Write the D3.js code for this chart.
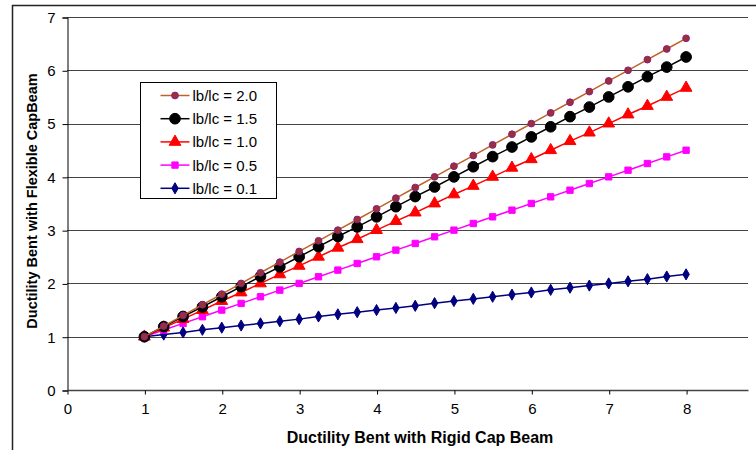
<!DOCTYPE html>
<html>
<head>
<meta charset="utf-8">
<script src="https://cdn.jsdelivr.net/npm/d3@7"></script>
<style>
  body { margin: 0; background: #fff; }
  svg text { font-family: Arial, "Liberation Sans", sans-serif; fill: #000; }
</style>
</head>
<body>
<svg id="chart" width="756" height="450"></svg>
<script>
// rigid cap beam ductility (x)
const rigid = [1, 1.25, 1.5, 1.75, 2, 2.25, 2.5, 2.75, 3, 3.25, 3.5, 3.75, 4, 4.25, 4.5, 4.75,
  5, 5.25, 5.5, 5.75, 6, 6.25, 6.5, 6.75, 7, 7.25, 7.5, 7.75, 8]

// flexible cap beam ductility, one list per lb/lc
const ratio20 = [1, 1.2, 1.4, 1.6, 1.8, 2.0, 2.2, 2.4, 2.6, 2.8, 3.0, 3.2, 3.4, 3.6, 3.8, 4.0,
  4.2, 4.4, 4.6, 4.8, 5.0, 5.2, 5.4, 5.6, 5.8, 6.0, 6.2, 6.4, 6.6]
const ratio15 = [1, 1.19, 1.38, 1.56, 1.75, 1.94, 2.13, 2.31, 2.5, 2.69, 2.88, 3.06, 3.25, 3.44, 3.63, 3.81,
  4.0, 4.19, 4.38, 4.56, 4.75, 4.94, 5.13, 5.31, 5.5, 5.69, 5.88, 6.06, 6.25]
const ratio10 = [1, 1.17, 1.33, 1.5, 1.67, 1.83, 2.0, 2.17, 2.33, 2.5, 2.67, 2.83, 3.0, 3.17, 3.33, 3.5,
  3.67, 3.83, 4.0, 4.17, 4.33, 4.5, 4.67, 4.83, 5.0, 5.17, 5.33, 5.5, 5.67]
const ratio05 = [1, 1.125, 1.25, 1.375, 1.5, 1.625, 1.75, 1.875, 2.0, 2.125, 2.25, 2.375, 2.5, 2.625, 2.75, 2.875,
  3.0, 3.125, 3.25, 3.375, 3.5, 3.625, 3.75, 3.875, 4.0, 4.125, 4.25, 4.375, 4.5]
const ratio01 = [1, 1.04, 1.08, 1.13, 1.17, 1.21, 1.25, 1.29, 1.33, 1.38, 1.42, 1.46, 1.5, 1.54, 1.58, 1.63,
  1.67, 1.71, 1.75, 1.79, 1.83, 1.88, 1.92, 1.96, 2.0, 2.04, 2.08, 2.13, 2.17]

const seriesNames = ["lb/lc = 2.0", "lb/lc = 1.5", "lb/lc = 1.0", "lb/lc = 0.5", "lb/lc = 0.1"]
const xTicks = [0, 1, 2, 3, 4, 5, 6, 7, 8]
const yTicks = [0, 1, 2, 3, 4, 5, 6, 7]

const series = [
  { name: seriesNames[0], values: ratio20, line: "#c0602a", fill: "#993333", stroke: "#8b1a8b", shape: d3.symbolCircle, size: 36 },
  { name: seriesNames[1], values: ratio15, line: "#000", fill: "#000", stroke: "#000", shape: d3.symbolCircle, size: 90 },
  { name: seriesNames[2], values: ratio10, line: "#ff0000", fill: "#ff0000", stroke: "#ff0000", shape: d3.symbolTriangle, size: 60 },
  { name: seriesNames[3], values: ratio05, line: "#ff00ff", fill: "#ff00ff", stroke: "#ff00ff", shape: d3.symbolSquare, size: 40 },
  { name: seriesNames[4], values: ratio01, line: "#000080", fill: "#000080", stroke: "#000080", shape: d3.symbolDiamond, size: 36 }
]

const svg = d3.select("#chart")

// outer chart frame
svg.append("path")
  .attr("d", "M12.5,452 V5.5 H760")
  .attr("fill", "none").attr("stroke", "#222").attr("stroke-width", 1.5)

const margin = {top: 17, left: 67, right: 8, bottom: 60}
const x = d3.scaleLinear().domain([0, 8.8]).range([margin.left, 756 - margin.right])
const y = d3.scaleLinear().domain([0, 7]).range([390, margin.top])

// gridlines
svg.append("g")
  .selectAll("line")
  .data(yTicks.slice(1))
  .enter().append("line")
    .attr("x1", x(0)).attr("x2", x(8.8))
    .attr("y1", d => Math.round(y(d)) + 0.5).attr("y2", d => Math.round(y(d)) + 0.5)
    .attr("stroke", "#444").attr("stroke-width", 1)

// y axis
const yAxis = svg.append("g")
  .attr("transform", "translate(" + (x(0) + 0.5) + ",0.5)")
  .call(d3.axisLeft(y).tickValues(yTicks).tickSize(5).tickPadding(7).tickFormat(d3.format("d")))
yAxis.select(".domain").attr("stroke", "#000")
yAxis.selectAll("text").style("font-size", "15px")

// x axis
const xAxis = svg.append("g")
  .attr("transform", "translate(0.5," + (y(0) + 0.5) + ")")
  .call(d3.axisBottom(x).tickValues(xTicks).tickSize(4).tickPadding(9).tickFormat(d3.format("d")))
xAxis.select(".domain").attr("d", "M" + x(0) + ",0H" + x(8.8)).attr("stroke", "#444").attr("stroke-width", 1.5)
xAxis.selectAll("text").style("font-size", "15px")

// series
const line = d3.line().x((d, i) => x(rigid[i])).y(d => y(d))
series.slice().reverse().forEach(s => {
  const g = svg.append("g")
  g.append("path")
    .datum(s.values)
    .attr("d", line)
    .attr("fill", "none").attr("stroke", s.line).attr("stroke-width", 1.5)
  g.selectAll("path.pt")
    .data(s.values)
    .enter().append("path")
      .attr("class", "pt")
      .attr("transform", (d, i) => "translate(" + x(rigid[i]) + "," + y(d) + ")")
      .attr("d", d3.symbol().type(s.shape).size(s.size))
      .attr("fill", s.fill).attr("stroke", s.stroke).attr("stroke-width", 1)
})

// axis titles
svg.append("text")
  .attr("x", 420).attr("y", 443)
  .attr("text-anchor", "middle")
  .style("font-size", "16px").style("font-weight", "bold")
  .text("Ductility Bent with Rigid Cap Beam")

svg.append("text")
  .attr("transform", "translate(37,201) rotate(-90)")
  .attr("text-anchor", "middle")
  .style("font-size", "14.5px").style("font-weight", "bold")
  .text("Ductility Bent with Flexible CapBeam")

// legend
const legend = svg.append("g").attr("transform", "translate(140.5,82.5)")
legend.append("rect")
  .attr("width", 136).attr("height", 116)
  .attr("fill", "#fff").attr("stroke", "#000").attr("stroke-width", 1)
series.forEach((s, i) => {
  const ly = 13 + i * 23.2
  legend.append("line")
    .attr("x1", 20).attr("x2", 49).attr("y1", ly).attr("y2", ly)
    .attr("stroke", s.line).attr("stroke-width", 1.5)
  legend.append("path")
    .attr("transform", "translate(34.5," + ly + ")")
    .attr("d", d3.symbol().type(s.shape).size(s.size))
    .attr("fill", s.fill).attr("stroke", s.stroke)
  legend.append("text")
    .attr("x", 52).attr("y", ly + 5.5)
    .style("font-size", "15px")
    .text(s.name)
})
</script>
</body>
</html>
